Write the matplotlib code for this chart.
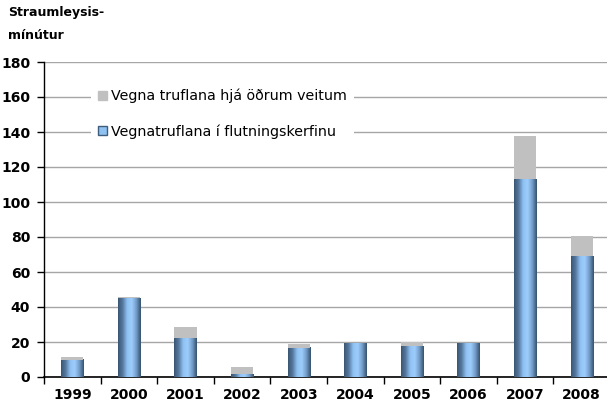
import matplotlib.pyplot as plt
import numpy as np
from matplotlib.patches import Patch
from matplotlib.colors import LinearSegmentedColormap

# gögn lesin af myndinni
years = ['1999', '2000', '2001', '2002', '2003', '2004', '2005', '2006', '2007', '2008']
flutningskerfi = [10, 45, 22.3, 1.5, 16.6, 19.4, 17.7, 18.9, 113, 69]
adrar_veitur = [1.3, 1, 6.2, 4, 2.1, 0.2, 2.1, 0, 25, 11.4]

lbl_grey = 'Vegna truflana hjá öðrum veitum'
lbl_blue = 'Vegnatruflana í flutningskerfinu'

fig = plt.figure(figsize=(6.07, 4.07), dpi=100)
ax = fig.add_axes([44/607, 30/407, 566/607, 315/407])

# sívalningslitur á súlunum
cmap = LinearSegmentedColormap.from_list('cyl', ['#3a5674', '#56799f', '#8fc1f2', '#9dcdfc', '#749ecb', '#37536f'])
grad = np.linspace(0, 1, 64).reshape(1, -1)

x = np.arange(len(years))
w = 0.39
for xi, h in zip(x, flutningskerfi):
    ax.imshow(grad, cmap=cmap, extent=[xi - w/2, xi + w/2, 0, h], aspect='auto', zorder=3)
ax.bar(x, adrar_veitur, w, bottom=flutningskerfi, color='#c0c0c0', zorder=3)

ax.set_xlim(-0.5, len(years) - 0.5)
ax.set_ylim(0, 180)
ax.set_yticks(np.arange(0, 181, 20))
ax.set_xticks(x)
ax.set_xticklabels(years, fontsize=10, fontweight='bold')
ax.set_xticks(np.arange(-0.5, len(years), 1), minor=True)
ax.tick_params(axis='x', which='major', length=0, pad=8)
ax.tick_params(axis='x', which='minor', length=5, direction='out', width=1)
ax.tick_params(axis='y', length=5, width=1, direction='out', pad=5)
for t in ax.get_yticklabels():
    t.set_fontsize(10)
    t.set_fontweight('bold')
ax.grid(axis='y', color='#a6a6a6', lw=1, zorder=0)
ax.set_axisbelow(True)
for s in ['top', 'right']:
    ax.spines[s].set_visible(False)
ax.spines['left'].set_linewidth(1)
ax.spines['bottom'].set_linewidth(1.2)

handles = [Patch(facecolor='#c0c0c0', edgecolor='#c0c0c0', label=lbl_grey),
           Patch(facecolor='#8fc1f2', edgecolor='#3e5c7c', label=lbl_blue)]
leg = ax.legend(handles=handles, loc='upper left', bbox_to_anchor=(0.07, 0.96),
                frameon=True, fancybox=False, edgecolor='none', framealpha=1,
                fontsize=10.3, handlelength=0.65, handleheight=0.65, handletextpad=0.25,
                labelspacing=1.45, borderpad=0.5)
leg.set_zorder(5)

fig.text(8/607, 1 - 6/407, 'Straumleysis-\nmínútur', fontsize=9, fontweight='bold',
         va='top', ha='left', linespacing=2.0)

fig.savefig('out.png', dpi=100)
